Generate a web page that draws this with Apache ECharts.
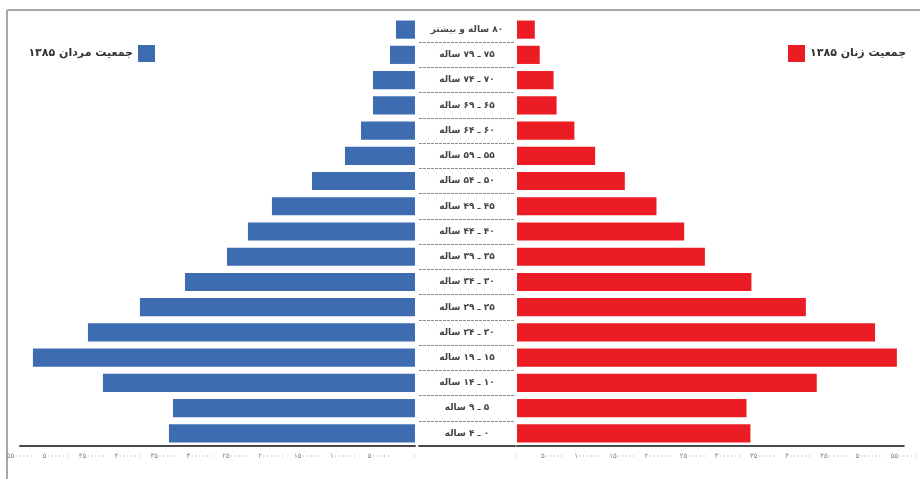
<!DOCTYPE html>
<html>
<head>
<meta charset="utf-8">
<script src="https://cdn.jsdelivr.net/npm/echarts@6/dist/echarts.min.js"></script>
<style>
html,body{margin:0;padding:0;background:#fff;}
#c{width:920px;height:479px;}
</style>
</head>
<body>
<div id="c"></div>
<script>
// Age groups, top to bottom
var ageGroups = ['۸۰ ساله و بیشتر','۷۵ ـ ۷۹ ساله','۷۰ ـ ۷۴ ساله','۶۵ ـ ۶۹ ساله','۶۰ ـ ۶۴ ساله','۵۵ ـ ۵۹ ساله','۵۰ ـ ۵۴ ساله','۴۵ ـ ۴۹ ساله','۴۰ ـ ۴۴ ساله','۳۵ ـ ۳۹ ساله','۳۰ ـ ۳۴ ساله','۲۵ ـ ۲۹ ساله','۲۰ ـ ۲۴ ساله','۱۵ ـ ۱۹ ساله','۱۰ ـ ۱۴ ساله','۵ ـ ۹ ساله','۰ ـ ۴ ساله'];
var menName = 'جمعیت مردان ۱۳۸۵';
var womenName = 'جمعیت زنان ۱۳۸۵';
var men = [265000, 348000, 585000, 585000, 752000, 975000, 1434000, 1992000, 2326000, 2618000, 3203000, 3830000, 4554000, 5320000, 4345000, 3370000, 3426000];
var women = [253000, 323000, 520000, 563000, 816000, 1111000, 1533000, 1983000, 2377000, 2672000, 3333000, 4107000, 5091000, 5401000, 4262000, 3263000, 3319000];
var axisMax = 5500000;
var axisStep = 500000;
var persianDigits = ['۰','۱','۲','۳','۴','۵','۶','۷','۸','۹'];

function toFa(v){ return String(v).replace(/[0-9]/g, function(d){ return persianDigits[+d]; }); }
var RLM = '\u200F';
var FONT = "'DejaVu Sans', sans-serif";
var BLUE = '#3d6cb0', RED = '#ec1c24';

var chart = echarts.init(document.getElementById('c'), null, {renderer:'canvas'});
var xCommon = {
  type:'value', min:0, max:axisMax, interval:axisStep,
  axisLine:{show:true, lineStyle:{color:'#4a4a4a', width:2}},
  axisTick:{show:false},
  splitLine:{show:false},
  axisLabel:{color:'#888', fontSize:7, fontFamily:FONT, margin:7, formatter:function(v){return toFa(v);}}
};
var yHidden = {type:'category', inverse:true, data:ageGroups, axisLine:{show:false}, axisTick:{show:false}, axisLabel:{show:false}, splitLine:{show:false}};

chart.setOption({
  animation:false,
  textStyle:{fontFamily:FONT},
  legend:[
    {data:[menName], right:760, top:40, align:'right', itemWidth:17, itemHeight:17, icon:'rect',
     textStyle:{fontSize:11, fontWeight:'bold', color:'#333', fontFamily:FONT}, formatter:function(n){return RLM+n;}},
    {data:[womenName], left:783, top:40, align:'left', itemWidth:17, itemHeight:17, icon:'rect',
     textStyle:{fontSize:11, fontWeight:'bold', color:'#333', fontFamily:FONT}, formatter:function(n){return RLM+n;}}
  ],
  grid:[
    {left:20, right:505, top:17, bottom:33},
    {left:517, right:7, top:17, bottom:33},
    {left:419, right:405, top:17, bottom:33}
  ],
  xAxis:[
    Object.assign({}, xCommon, {gridIndex:0, inverse:true}),
    Object.assign({}, xCommon, {gridIndex:1}),
    {gridIndex:2, type:'value', min:0, max:1, axisLine:{show:true, lineStyle:{color:'#4a4a4a', width:2}}, axisTick:{show:false}, axisLabel:{show:false}, splitLine:{show:false}}
  ],
  yAxis:[
    Object.assign({}, yHidden, {gridIndex:0}),
    Object.assign({}, yHidden, {gridIndex:1}),
    {gridIndex:2, type:'category', inverse:true, data:ageGroups,
     axisLine:{show:false}, axisTick:{show:false},
     axisLabel:{show:true, align:'center', margin:-48, fontSize:9, fontWeight:'bold', color:'#444', fontFamily:FONT,
                formatter:function(v){return RLM+v;}},
     splitLine:{show:true, interval:function(i){return i!==0;}, lineStyle:{color:'#8a8a8a', width:1, type:[3,1]}}}
  ],
  series:[
    {name:menName, type:'bar', xAxisIndex:0, yAxisIndex:0, data:men, barCategoryGap:'28%', itemStyle:{color:BLUE}},
    {name:womenName, type:'bar', xAxisIndex:1, yAxisIndex:1, data:women, barCategoryGap:'28%', itemStyle:{color:RED}}
  ],
  graphic:[
    {type:'line', shape:{x1:7, y1:10, x2:920, y2:10}, style:{stroke:'#a8a8a8', lineWidth:2}},
    {type:'line', shape:{x1:7, y1:10, x2:7, y2:479}, style:{stroke:'#a8a8a8', lineWidth:2}}
  ]
});
</script>
</body>
</html>
